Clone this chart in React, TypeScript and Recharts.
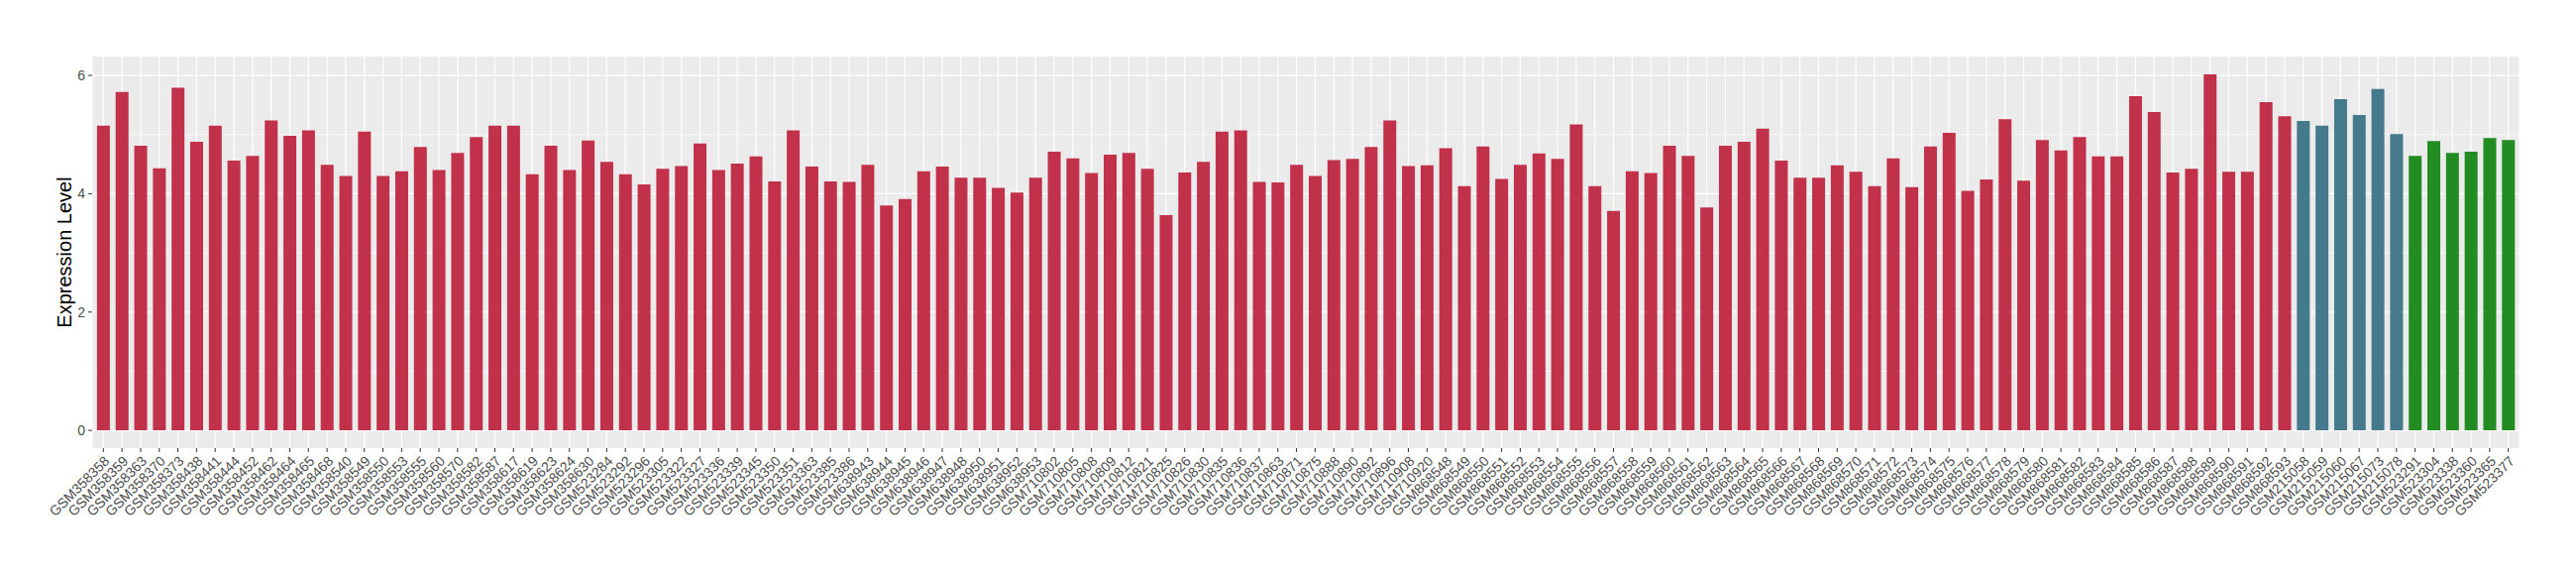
import { BarChart, Bar, XAxis, YAxis, CartesianGrid, Cell } from 'recharts';

const groupASamples = [
  'GSM358358', 'GSM358359', 'GSM358363', 'GSM358370', 'GSM358373', 'GSM358438', 'GSM358441', 'GSM358444',
  'GSM358452', 'GSM358462', 'GSM358464', 'GSM358465', 'GSM358468', 'GSM358540', 'GSM358549', 'GSM358550',
  'GSM358553', 'GSM358555', 'GSM358560', 'GSM358570', 'GSM358582', 'GSM358587', 'GSM358617', 'GSM358619',
  'GSM358623', 'GSM358624', 'GSM358630', 'GSM523284', 'GSM523292', 'GSM523296', 'GSM523305', 'GSM523322',
  'GSM523327', 'GSM523336', 'GSM523339', 'GSM523345', 'GSM523350', 'GSM523351', 'GSM523363', 'GSM523385',
  'GSM523386', 'GSM638943', 'GSM638944', 'GSM638945', 'GSM638946', 'GSM638947', 'GSM638948', 'GSM638950',
  'GSM638951', 'GSM638952', 'GSM638953', 'GSM710802', 'GSM710805', 'GSM710808', 'GSM710809', 'GSM710812',
  'GSM710821', 'GSM710825', 'GSM710826', 'GSM710830', 'GSM710835', 'GSM710836', 'GSM710837', 'GSM710863',
  'GSM710871', 'GSM710875', 'GSM710888', 'GSM710890', 'GSM710892', 'GSM710896', 'GSM710908', 'GSM710920',
  'GSM868548', 'GSM868549', 'GSM868550', 'GSM868551', 'GSM868552', 'GSM868553', 'GSM868554', 'GSM868555',
  'GSM868556', 'GSM868557', 'GSM868558', 'GSM868559', 'GSM868560', 'GSM868561', 'GSM868562', 'GSM868563',
  'GSM868564', 'GSM868565', 'GSM868566', 'GSM868567', 'GSM868568', 'GSM868569', 'GSM868570', 'GSM868571',
  'GSM868572', 'GSM868573', 'GSM868574', 'GSM868575', 'GSM868576', 'GSM868577', 'GSM868578', 'GSM868579',
  'GSM868580', 'GSM868581', 'GSM868582', 'GSM868583', 'GSM868584', 'GSM868585', 'GSM868586', 'GSM868587',
  'GSM868588', 'GSM868589', 'GSM868590', 'GSM868591', 'GSM868592', 'GSM868593',
];
const groupAValues = [
  5.15, 5.72, 4.81, 4.43, 5.79, 4.88, 5.15, 4.56, 4.64, 5.24, 4.98, 5.07, 4.49, 4.30, 5.05, 4.30,
  4.38, 4.79, 4.40, 4.69, 4.96, 5.15, 5.15, 4.33, 4.81, 4.40, 4.90, 4.54, 4.33, 4.16, 4.42, 4.47,
  4.85, 4.40, 4.51, 4.63, 4.21, 5.07, 4.46, 4.21, 4.20, 4.49, 3.80, 3.91, 4.38, 4.46, 4.27, 4.27,
  4.10, 4.02, 4.27, 4.71, 4.60, 4.35, 4.66, 4.69, 4.42, 3.64, 4.36, 4.54, 5.05, 5.07, 4.20, 4.19,
  4.49, 4.30, 4.57, 4.59, 4.79, 5.24, 4.47, 4.48, 4.77, 4.13, 4.80, 4.25, 4.49, 4.68, 4.59, 5.17,
  4.13, 3.71, 4.38, 4.35, 4.81, 4.64, 3.77, 4.81, 4.88, 5.10, 4.56, 4.27, 4.27, 4.48, 4.37, 4.13,
  4.60, 4.11, 4.80, 5.03, 4.05, 4.24, 5.26, 4.22, 4.91, 4.73, 4.96, 4.63, 4.63, 5.65, 5.38, 4.36,
  4.42, 6.02, 4.37, 4.37, 5.55, 5.31,
];

const groupBSamples = ['GSM215058', 'GSM215059', 'GSM215060', 'GSM215067', 'GSM215073', 'GSM215078'];
const groupBValues = [5.23, 5.15, 5.60, 5.33, 5.77, 5.01];

const groupCSamples = ['GSM523291', 'GSM523304', 'GSM523338', 'GSM523360', 'GSM523365', 'GSM523377'];
const groupCValues = [4.64, 4.89, 4.69, 4.71, 4.94, 4.91];

const groupColors = ['#C2314A', '#447A8B', '#228B22'];
const yTicks = [0, 2, 4, 6];
const yMinorTicks = [1, 3, 5];

const data = [
  ...groupASamples.map((s, i) => ({ sample: s, value: groupAValues[i], group: 0 })),
  ...groupBSamples.map((s, i) => ({ sample: s, value: groupBValues[i], group: 1 })),
  ...groupCSamples.map((s, i) => ({ sample: s, value: groupCValues[i], group: 2 })),
];

const FONT = '"Liberation Sans", Arial, sans-serif';

function SampleTick({ x, y, payload }: any) {
  return (
    <text
      x={x}
      y={y}
      dy="0.71em"
      textAnchor="end"
      transform={`rotate(-45 ${x} ${y})`}
      fontSize={14}
      fontFamily={FONT}
      fill="#4d4d4d"
    >
      {payload.value}
    </text>
  );
}

function YTitle({ viewBox }: any) {
  const cx = 57;
  const cy = viewBox.y + viewBox.height / 2;
  return (
    <text
      x={cx}
      y={cy}
      dy="0.35em"
      textAnchor="middle"
      transform={`rotate(-90 ${cx} ${cy})`}
      fontSize={20}
      fontFamily={FONT}
      fill="#000"
    >
      Expression Level
    </text>
  );
}

export default function App() {
  return (
    <BarChart
      width={2584}
      height={564}
      data={data}
      margin={{ top: 49, right: 49, left: 0, bottom: 0 }}
    >
      <CartesianGrid
        fill="#EBEBEB"
        stroke="#FFFFFF"
        strokeWidth={1.2}
        horizontalValues={yTicks}
      />
      <CartesianGrid
        stroke="#FFFFFF"
        strokeWidth={0.6}
        vertical={false}
        horizontalValues={yMinorTicks}
      />
      <XAxis
        dataKey="sample"
        interval={0}
        height={120}
        padding={{ left: 1.9, right: 1.9 }}
        axisLine={false}
        tickSize={4}
        tickMargin={3}
        tickLine={{ stroke: '#333333' }}
        tick={<SampleTick />}
      />
      <YAxis
        type="number"
        width={85}
        domain={[-0.3, 6.32]}
        allowDataOverflow
        ticks={yTicks}
        axisLine={false}
        tickSize={4}
        tickMargin={3}
        tickLine={{ stroke: '#333333' }}
        tick={{ fontSize: 14, fill: '#4d4d4d', fontFamily: FONT }}
        label={<YTitle />}
      />
      <Bar dataKey="value" barSize={13} isAnimationActive={false}>
        {data.map((d) => (
          <Cell key={d.sample} fill={groupColors[d.group]} />
        ))}
      </Bar>
    </BarChart>
  );
}
